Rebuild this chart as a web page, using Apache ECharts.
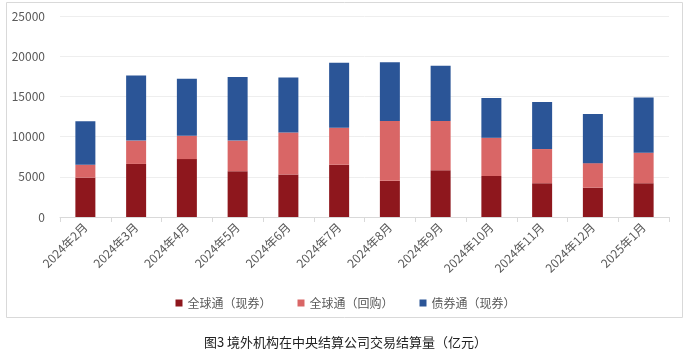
<!DOCTYPE html>
<html><head><meta charset="utf-8">
<script src="https://cdn.jsdelivr.net/npm/echarts@6/dist/echarts.min.js"></script>
<style>html,body{margin:0;padding:0;background:#fff}#c{width:691px;height:362px}</style>
</head><body><div id="c"></div>
<script>
const categories = ['2024年2月','2024年3月','2024年4月','2024年5月','2024年6月','2024年7月','2024年8月','2024年9月','2024年10月','2024年11月','2024年12月','2025年1月'];
const globalSpot = [4900, 6600, 7200, 5700, 5300, 6500, 4500, 5800, 5100, 4200, 3650, 4200];
const globalRepo = [1600, 2900, 2900, 3800, 5200, 4600, 7450, 6150, 4750, 4250, 3050, 3800];
const bondConnect = [5400, 8100, 7100, 7900, 6850, 8100, 7300, 6850, 4950, 5850, 6100, 6850];
const seriesNames = ['全球通（现券）','全球通（回购）','债券通（现券）'];
const yTicks = {min: 0, max: 25000, interval: 5000};
const titleText = '图3 境外机构在中央结算公司交易结算量（亿元）';

const font = '"Microsoft YaHei","Noto Sans CJK SC",sans-serif';
const chart = echarts.init(document.getElementById('c'), null, {renderer: 'canvas'});
const colors = ['#8E171D', '#D96666', '#2B5597'];
const mk = (name, data, i) => ({
  name, type: 'bar', stack: 'total', data, barWidth: 20,
  itemStyle: {color: colors[i]}
});
chart.setOption({
  animation: false,
  textStyle: {fontFamily: font},
  graphic: [{
    type: 'rect', shape: {x: 6.5, y: 2.5, width: 676, height: 315},
    style: {fill: 'none', stroke: '#D9D9D9', lineWidth: 1}, z: -1
  }],
  title: {
    text: titleText, left: 'center', top: 331,
    textStyle: {fontSize: 13, fontWeight: 'normal', color: '#222', fontFamily: font}
  },
  legend: {
    data: seriesNames, top: 292, left: 'center', itemWidth: 7, itemHeight: 7,
    itemGap: 26, icon: 'rect',
    textStyle: {fontSize: 12, color: '#595959', fontFamily: font}
  },
  grid: {left: 60, right: 22, top: 16, bottom: 145, containLabel: false},
  xAxis: {
    type: 'category', data: categories, boundaryGap: true,
    axisLine: {lineStyle: {color: '#D9D9D9'}},
    axisTick: {show: true, length: 5, lineStyle: {color: '#D9D9D9'}},
    axisLabel: {rotate: 45, fontSize: 12, color: '#595959', margin: 8, fontFamily: font}
  },
  yAxis: {
    type: 'value', min: yTicks.min, max: yTicks.max, interval: yTicks.interval,
    axisLine: {show: false}, axisTick: {show: false},
    axisLabel: {fontSize: 12, color: '#595959', margin: 15, fontFamily: font,
      formatter: v => String(v)},
    splitLine: {lineStyle: {color: '#EEEEEE'}}
  },
  series: [
    mk(seriesNames[0], globalSpot, 0),
    mk(seriesNames[1], globalRepo, 1),
    mk(seriesNames[2], bondConnect, 2)
  ]
});
</script></body></html>
